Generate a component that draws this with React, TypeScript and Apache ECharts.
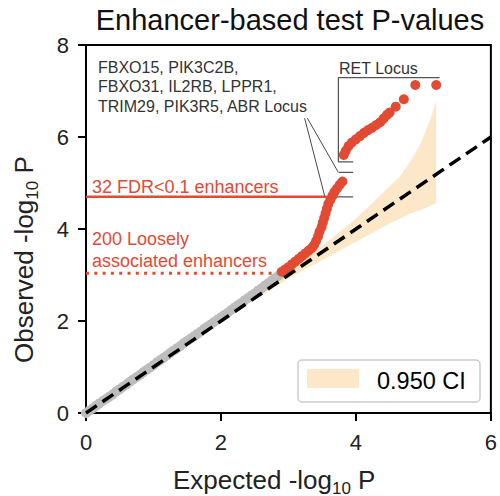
import { useEffect, useRef } from "react";
import * as echarts from "echarts";

// ---------- data ----------
const xTicks = [0, 2, 4, 6];
const yTicks = [0, 2, 4, 6, 8];

// non-significant enhancers (grey)
const grayPoints: number[][] = [
  [0, 0], [0.05, 0.05], [0.1, 0.1], [0.15, 0.16], [0.2, 0.21], [0.25, 0.26], [0.3, 0.31],
  [0.35, 0.36], [0.4, 0.41], [0.45, 0.47], [0.5, 0.52], [0.55, 0.57], [0.6, 0.62],
  [0.65, 0.68], [0.7, 0.73], [0.75, 0.78], [0.8, 0.83], [0.85, 0.89], [0.9, 0.94],
  [0.95, 0.99], [1.0, 1.04], [1.05, 1.1], [1.1, 1.15], [1.15, 1.2], [1.2, 1.25],
  [1.25, 1.31], [1.3, 1.36], [1.35, 1.41], [1.4, 1.46], [1.45, 1.52], [1.5, 1.57],
  [1.55, 1.62], [1.6, 1.67], [1.65, 1.72], [1.7, 1.77], [1.75, 1.83], [1.8, 1.88],
  [1.85, 1.93], [1.9, 1.98], [1.95, 2.03], [2.0, 2.08], [2.05, 2.13], [2.1, 2.18],
  [2.15, 2.24], [2.2, 2.29], [2.25, 2.34], [2.3, 2.39], [2.35, 2.45], [2.4, 2.5],
  [2.45, 2.55], [2.5, 2.6], [2.55, 2.66], [2.6, 2.71], [2.65, 2.77], [2.7, 2.82],
  [2.75, 2.88], [2.8, 2.93], [2.85, 2.98], [2.9, 3.03],
];

// loosely associated / FDR enhancers (red)
const redPoints: number[][] = [
  [2.9, 3.07], [2.95, 3.12], [3.0, 3.17], [3.05, 3.23], [3.1, 3.29], [3.15, 3.35],
  [3.2, 3.41], [3.25, 3.47], [3.3, 3.53], [3.35, 3.59], [3.38, 3.65], [3.41, 3.74],
  [3.44, 3.84], [3.46, 3.94], [3.49, 4.04], [3.51, 4.14], [3.53, 4.24], [3.55, 4.34],
  [3.57, 4.44], [3.59, 4.54], [3.62, 4.63], [3.65, 4.72], [3.68, 4.8], [3.72, 4.88],
  [3.76, 4.96], [3.8, 5.03],
  [3.82, 5.61], [3.85, 5.7], [3.89, 5.8], [3.94, 5.88], [4.0, 5.95], [4.06, 6.02],
  [4.12, 6.09], [4.18, 6.15], [4.24, 6.2], [4.3, 6.26], [4.36, 6.32], [4.41, 6.4],
  [4.46, 6.48], [4.5, 6.53], [4.59, 6.66], [4.71, 6.82], [4.88, 7.13], [5.19, 7.13],
];

// 0.950 confidence band
const bandX = [2.5, 2.9, 3.3, 3.6, 3.9, 4.2, 4.5, 4.65, 4.8, 4.95, 5.1, 5.19];
const bandUpper = [2.56, 2.97, 3.4, 3.75, 4.1, 4.5, 4.93, 5.14, 5.45, 5.83, 6.37, 6.79];
const bandLower = [2.45, 2.83, 3.17, 3.4, 3.64, 3.88, 4.12, 4.22, 4.33, 4.41, 4.5, 4.56];

const diagonal: number[][] = [[0, 0], [6, 6]];

// annotation lines (data coordinates)
const fdrLine: number[][] = [[0, 4.7], [3.57, 4.7]];
const looseLine: number[][] = [[0, 3.04], [2.75, 3.04]];
const fbxoBracketBottom: number[][] = [[3.57, 4.7], [3.96, 4.7]];
const fbxoBracketTop: number[][] = [[3.75, 5.23], [3.96, 5.23]];
const retBracket: number[][] = [[3.96, 5.46], [3.74, 5.46], [3.74, 7.29], [5.24, 7.29]];
const connectorA: number[][] = [[3.24, 6.41], [3.54, 4.7]];
const connectorB: number[][] = [[3.28, 6.41], [3.74, 5.23]];

const titleText = "Enhancer-based test P-values";
const fbxoText = "FBXO15, PIK3C2B,\nFBXO31, IL2RB, LPPR1,\nTRIM29, PIK3R5, ABR Locus";
const retText = "RET Locus";
const fdrText = "32 FDR<0.1 enhancers";
const looseText = "200 Loosely\nassociated enhancers";
const legendText = "0.950 CI";

// ---------- styles ----------
const FONT = "'Liberation Sans', Arial, Helvetica, sans-serif";
const RED = "#e34a33";
const GRAY = "#bdbdbd";
const BAND = "#fde7c9";
const TXT = "#222222";

function lineSeries(data: number[][], color: string, width: number, type: any = "solid", z = 5) {
  return {
    type: "line",
    data,
    symbol: "none",
    showSymbol: false,
    silent: true,
    z,
    lineStyle: { color, width, type, cap: "butt" },
  };
}

export default function App() {
  const ref = useRef<HTMLDivElement>(null);

  useEffect(() => {
    document.body.style.margin = "0";
    if (!ref.current) return;
    const chart = echarts.init(ref.current, null, { renderer: "svg" });

    const axisCommon = {
      type: "value",
      axisLine: { show: true, lineStyle: { color: "#000", width: 2 } },
      axisTick: { show: true, length: 8, lineStyle: { color: "#000", width: 2 } },
      splitLine: { show: false },
    };

    const subRich = (size: number, sub: number) => ({
      a: { fontSize: size, fontFamily: FONT, lineHeight: 34, fill: TXT, color: TXT },
      s: { fontSize: sub, fontFamily: FONT, lineHeight: sub, verticalAlign: "bottom", fill: TXT, color: TXT },
    });

    chart.setOption({
      animation: false,
      backgroundColor: "#fff",
      grid: {
        left: 86, right: 9, top: 45, bottom: 83,
        show: true, borderColor: "#000", borderWidth: 2, backgroundColor: "transparent",
      },
      xAxis: {
        ...axisCommon,
        min: xTicks[0], max: xTicks[xTicks.length - 1], interval: 2,
        axisLabel: { fontSize: 22, color: TXT, fontFamily: FONT, margin: 18 },
      },
      yAxis: {
        ...axisCommon,
        min: yTicks[0], max: yTicks[yTicks.length - 1], interval: 2,
        axisLabel: { fontSize: 22, color: TXT, fontFamily: FONT, margin: 17 },
      },
      series: [
        {
          type: "custom",
          silent: true,
          z: 1,
          data: [[0, 0]],
          renderItem: (_p: any, api: any) => {
            const pts: number[][] = [];
            bandX.forEach((x, i) => pts.push(api.coord([x, bandUpper[i]])));
            for (let i = bandX.length - 1; i >= 0; i--) pts.push(api.coord([bandX[i], bandLower[i]]));
            return { type: "polygon", shape: { points: pts }, style: { fill: BAND } };
          },
        },
        {
          type: "scatter",
          data: grayPoints,
          symbolSize: 10,
          silent: true,
          z: 2,
          itemStyle: { color: GRAY, opacity: 1 },
        },
        {
          type: "scatter",
          data: redPoints,
          symbolSize: 10,
          silent: true,
          z: 3,
          itemStyle: { color: RED, opacity: 1 },
        },
        lineSeries(fdrLine, RED, 2.5, "solid", 4),
        lineSeries(looseLine, RED, 3, [3, 5.3], 4),
        lineSeries(fbxoBracketBottom, "#555", 1.2, "solid", 3),
        lineSeries(fbxoBracketTop, "#555", 1.2, "solid", 3),
        lineSeries(retBracket, "#555", 1.2, "solid", 3),
        lineSeries(connectorA, "#333", 0.9, "solid", 3),
        lineSeries(connectorB, "#333", 0.9, "solid", 3),
        lineSeries(diagonal, "#000", 3.5, [13, 7], 6),
      ],
      graphic: [
        {
          type: "text", x: 290, y: 20,
          style: { text: titleText, fontSize: 29, fontFamily: FONT, fill: "#111", textAlign: "center", textVerticalAlign: "middle" },
        },
        {
          type: "text", x: 98, y: 58,
          style: { text: fbxoText, fontSize: 16, lineHeight: 19.3, fontFamily: FONT, fill: "#333", textAlign: "left", textVerticalAlign: "top" },
        },
        {
          type: "text", x: 339, y: 68,
          style: { text: retText, fontSize: 16, fontFamily: FONT, fill: "#333", textAlign: "left", textVerticalAlign: "middle" },
        },
        {
          type: "text", x: 92, y: 186.5,
          style: { text: fdrText, fontSize: 18, fontFamily: FONT, fill: RED, textAlign: "left", textVerticalAlign: "middle" },
        },
        {
          type: "text", x: 92, y: 227.5,
          style: { text: looseText, fontSize: 18, lineHeight: 22, fontFamily: FONT, fill: RED, textAlign: "left", textVerticalAlign: "top" },
        },
        {
          type: "text", x: 173, y: 479.5,
          style: {
            text: "{a|Expected -log}{s|10}{a| P}", rich: subRich(26, 17),
            textAlign: "left", textVerticalAlign: "middle",
          },
        },
        {
          type: "text", x: 24, y: 363, rotation: Math.PI / 2,
          style: {
            text: "{a|Observed -log}{s|10}{a| P}", rich: subRich(26, 17),
            textAlign: "left", textVerticalAlign: "middle",
          },
        },
        {
          type: "rect",
          shape: { x: 298, y: 360, width: 182, height: 42, r: 4 },
          style: { fill: "rgba(255,255,255,0.85)", stroke: "#cccccc", lineWidth: 1.5 },
          z: 10,
        },
        {
          type: "rect",
          shape: { x: 307, y: 369, width: 52, height: 19 },
          style: { fill: BAND },
          z: 11,
        },
        {
          type: "text", x: 377, y: 380.5, z: 11,
          style: { text: legendText, fontSize: 23.5, fontFamily: FONT, fill: "#000", textAlign: "left", textVerticalAlign: "middle" },
        },
      ],
    });

    return () => chart.dispose();
  }, []);

  return <div ref={ref} style={{ width: 500, height: 496 }} />;
}
